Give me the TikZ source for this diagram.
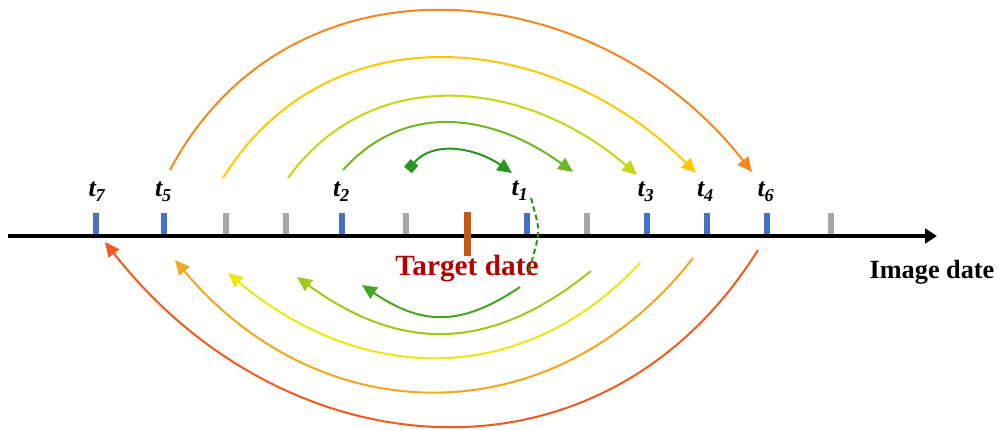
\documentclass[tikz,border=0pt]{standalone}
\usepackage{fontspec}
\setmainfont{Liberation Serif}
\usetikzlibrary{arrows.meta,calc}
\definecolor{cA1}{RGB}{40,150,30}
\definecolor{cA2}{RGB}{110,180,35}
\definecolor{cA3}{RGB}{195,215,20}
\definecolor{cA4}{RGB}{255,200,0}
\definecolor{cA5}{RGB}{245,135,30}
\definecolor{cB1}{RGB}{70,165,30}
\definecolor{cB2}{RGB}{160,200,20}
\definecolor{cB3}{RGB}{235,230,20}
\definecolor{cB4}{RGB}{245,165,30}
\definecolor{cB5}{RGB}{240,90,30}
\definecolor{tickblue}{RGB}{68,114,196}
\definecolor{tickgray}{RGB}{166,166,166}
\definecolor{tickorange}{RGB}{197,90,17}
\definecolor{tdred}{RGB}{180,0,0}
\begin{document}
\begin{tikzpicture}[x=0.75pt,y=0.75pt,
  axisline/.style={line width=3pt,-{Triangle[length=9pt,width=11pt]}},
  tickbox/.style={rectangle,inner sep=0pt,minimum width=4.5pt,minimum height=15.75pt},
  tickb/.style={tickbox,fill=tickblue},
  tickg/.style={tickbox,fill=tickgray},
  tickt/.style={rectangle,inner sep=0pt,minimum width=5.25pt,minimum height=33pt,fill=tickorange},
  tlabel/.style={anchor=base,inner sep=0pt,font=\bfseries\itshape\fontsize{19.5}{22}\selectfont},
  arcline/.style={line width=1.5pt,-{Triangle[length=11pt,width=10pt]}},
  dashline/.style={line width=1.5pt,dash pattern=on 4pt off 2.5pt,color=cA1}]
\useasboundingbox (0,0) rectangle (1000,429);

% upper arcs
\coordinate (a1s) at (408,259); \coordinate (a1e) at (512,256);
\coordinate (a2s) at (343,259); \coordinate (a2e) at (573,257);
\coordinate (a3s) at (288,251); \coordinate (a3e) at (637,254);
\coordinate (a4s) at (223,251); \coordinate (a4e) at (696,256);
\coordinate (a5s) at (170,259); \coordinate (a5e) at (752,257);
\draw[line width=1.5pt,cA1,{Square[length=7.5pt,width=7.5pt]}-{Triangle[length=11pt,width=10pt]}]
  (a1s) .. controls ($(a1s)+(50:41)$) and ($(a1e)+(145:41)$) .. (a1e);
\draw[arcline,cA2] (a2s) .. controls ($(a2s)+(48:96)$) and ($(a2e)+(144:96)$) .. (a2e);
\draw[arcline,cA3] (a3s) .. controls ($(a3s)+(54:145)$) and ($(a3e)+(139:145)$) .. (a3e);
\draw[arcline,cA4] (a4s) .. controls ($(a4s)+(58:201)$) and ($(a4e)+(135:201)$) .. (a4e);
\draw[arcline,cA5] (a5s) .. controls ($(a5s)+(62:255)$) and ($(a5e)+(128:255)$) .. (a5e);

% lower arcs
\coordinate (b1s) at (520,142); \coordinate (b1e) at (362,144);
\coordinate (b2s) at (591,158); \coordinate (b2e) at (297,152);
\coordinate (b3s) at (640,166); \coordinate (b3e) at (228,156);
\coordinate (b4s) at (693,171); \coordinate (b4e) at (175,169);
\coordinate (b5s) at (758,179); \coordinate (b5e) at (105,187);
\draw[arcline,cB1] (b1s) .. controls ($(b1s)+(214:72)$) and ($(b1e)+(326:72)$) .. (b1e);
\draw[arcline,cB2] (b2s) .. controls ($(b2s)+(219:129)$) and ($(b2e)+(324:129)$) .. (b2e);
\draw[arcline,cB3] (b3s) .. controls ($(b3s)+(227:173)$) and ($(b3e)+(320:173)$) .. (b3e);
\draw[arcline,cB4] (b4s) .. controls ($(b4s)+(232:227)$) and ($(b4e)+(310:227)$) .. (b4e);
\draw[arcline,cB5] (b5s) .. controls ($(b5s)+(238:293)$) and ($(b5e)+(308:293)$) .. (b5e);

% axis
\coordinate (axL) at (8,193); \coordinate (axR) at (937,193);
\draw[axisline] (axL) -- (axR);

% ticks
\node[tickb] (k7) at (96,205.5) {};
\node[tickb] (k5) at (164,205.5) {};
\node[tickg] (g1) at (226,205.5) {};
\node[tickg] (g2) at (286,205.5) {};
\node[tickb] (k2) at (342,205.5) {};
\node[tickg] (g3) at (406,205.5) {};
\node[tickt] (kt) at (467,195) {};
\node[tickb] (k1) at (527,205.5) {};
\node[tickg] (g4) at (587,205.5) {};
\node[tickb] (k3) at (647,205.5) {};
\node[tickb] (k4) at (707,205.5) {};
\node[tickb] (k6) at (767,205.5) {};
\node[tickg] (g5) at (831,205.5) {};

% labels
\node[tlabel] (l7) at (97,232) {t\textsubscript{7}};
\node[tlabel] (l5) at (163.5,232) {t\textsubscript{5}};
\node[tlabel] (l2) at (341.5,232) {t\textsubscript{2}};
\node[tlabel] (l1) at (520,233) {t\textsubscript{1}};
\node[tlabel] (l3) at (646,232) {t\textsubscript{3}};
\node[tlabel] (l4) at (705.5,232) {t\textsubscript{4}};
\node[tlabel] (l6) at (766,232) {t\textsubscript{6}};

\node[anchor=base,inner sep=0pt,text=tdred,font=\bfseries\fontsize{22}{26}\selectfont] (td) at (467,154) {Target date};
\node[anchor=base,inner sep=0pt,font=\bfseries\fontsize{19.7}{24}\selectfont] (idt) at (932,151) {Image date};

% dashed loop
\coordinate (d1) at (531,231); \coordinate (d2) at (528,154);
\draw[dashline] (d1) .. controls ($(d1)+(-75:40)$) and ($(d2)+(75:50)$) .. (d2);
\end{tikzpicture}
\end{document}
